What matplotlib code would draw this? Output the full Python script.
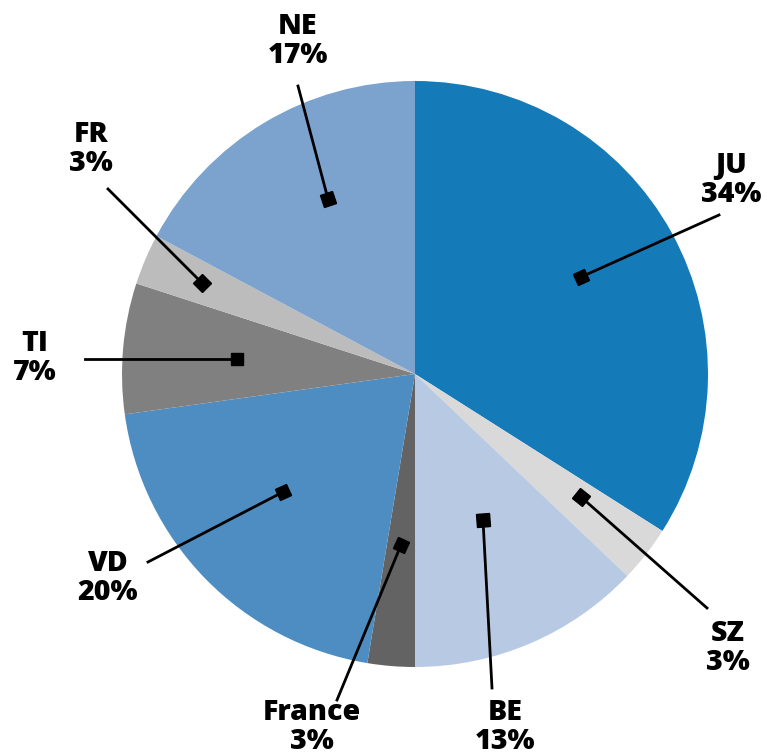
import numpy as np
import matplotlib
import matplotlib.pyplot as plt
from matplotlib.markers import MarkerStyle
from matplotlib.transforms import Affine2D

matplotlib.use('Agg')

# données (parts, étiquettes arrondies)
labels = ['JU', 'SZ', 'BE', 'France', 'VD', 'TI', 'FR', 'NE']
values = [34.0, 3.1, 12.9, 2.6, 20.2, 7.2, 2.8, 17.2]
colors = ['#157ab8', '#d9d9d9', '#b8c9e3', '#636363',
          '#4e8dc1', '#808080', '#bcbcbc', '#7ba3ce']

# mise en page des étiquettes (pixels de l'image de référence)
marker_px = [(581, 277), (581, 497), (483, 520), (401, 545),
             (283, 492), (237, 359), (202, 283), (328, 199)]
line_end_px = [(719, 215), (707, 608), (492, 688), (337, 700),
               (148, 562), (85, 359), (108, 189), (298, 86)]
text_px = [(731, 180), (728, 648), (505, 727), (312, 727),
           (108, 578), (35, 358), (91, 149), (298, 41)]

W, H = 767, 753
cx, cy, R = 415, 374, 293


def px2data(p):
    return (p[0] - cx) / R, (cy - p[1]) / R


fig = plt.figure(figsize=(W / 100, H / 100), dpi=100)
ax = fig.add_axes([0, 0, 1, 1])
wedges, _ = ax.pie(values, colors=colors, startangle=90, counterclock=False,
                   radius=1, center=(0, 0), frame=True,
                   wedgeprops=dict(linewidth=0))
ax.set_xlim(-cx / R, (W - cx) / R)
ax.set_ylim(-(H - cy) / R, cy / R)
ax.set_aspect('auto')
ax.axis('off')

total = sum(values)
for i, w in enumerate(wedges):
    mx, my = px2data(marker_px[i])
    ex, ey = px2data(line_end_px[i])
    ax.plot([mx, ex], [my, ey], color='black', lw=2, zorder=3)
    ang = np.degrees(np.arctan2(ey - my, ex - mx))
    m = MarkerStyle('s', transform=Affine2D().rotate_deg(ang))
    ax.plot(mx, my, marker=m, color='black', markersize=9, zorder=4)
    tx, ty = px2data(text_px[i])
    pct = round(values[i] / total * 100)
    ax.text(tx, ty, f'{labels[i]}\n{pct}%', ha='center', va='center',
            fontsize=20.5, fontweight='heavy', family=['Open Sans', 'DejaVu Sans'],
            linespacing=1.0)

plt.savefig('out.png', dpi=100)
